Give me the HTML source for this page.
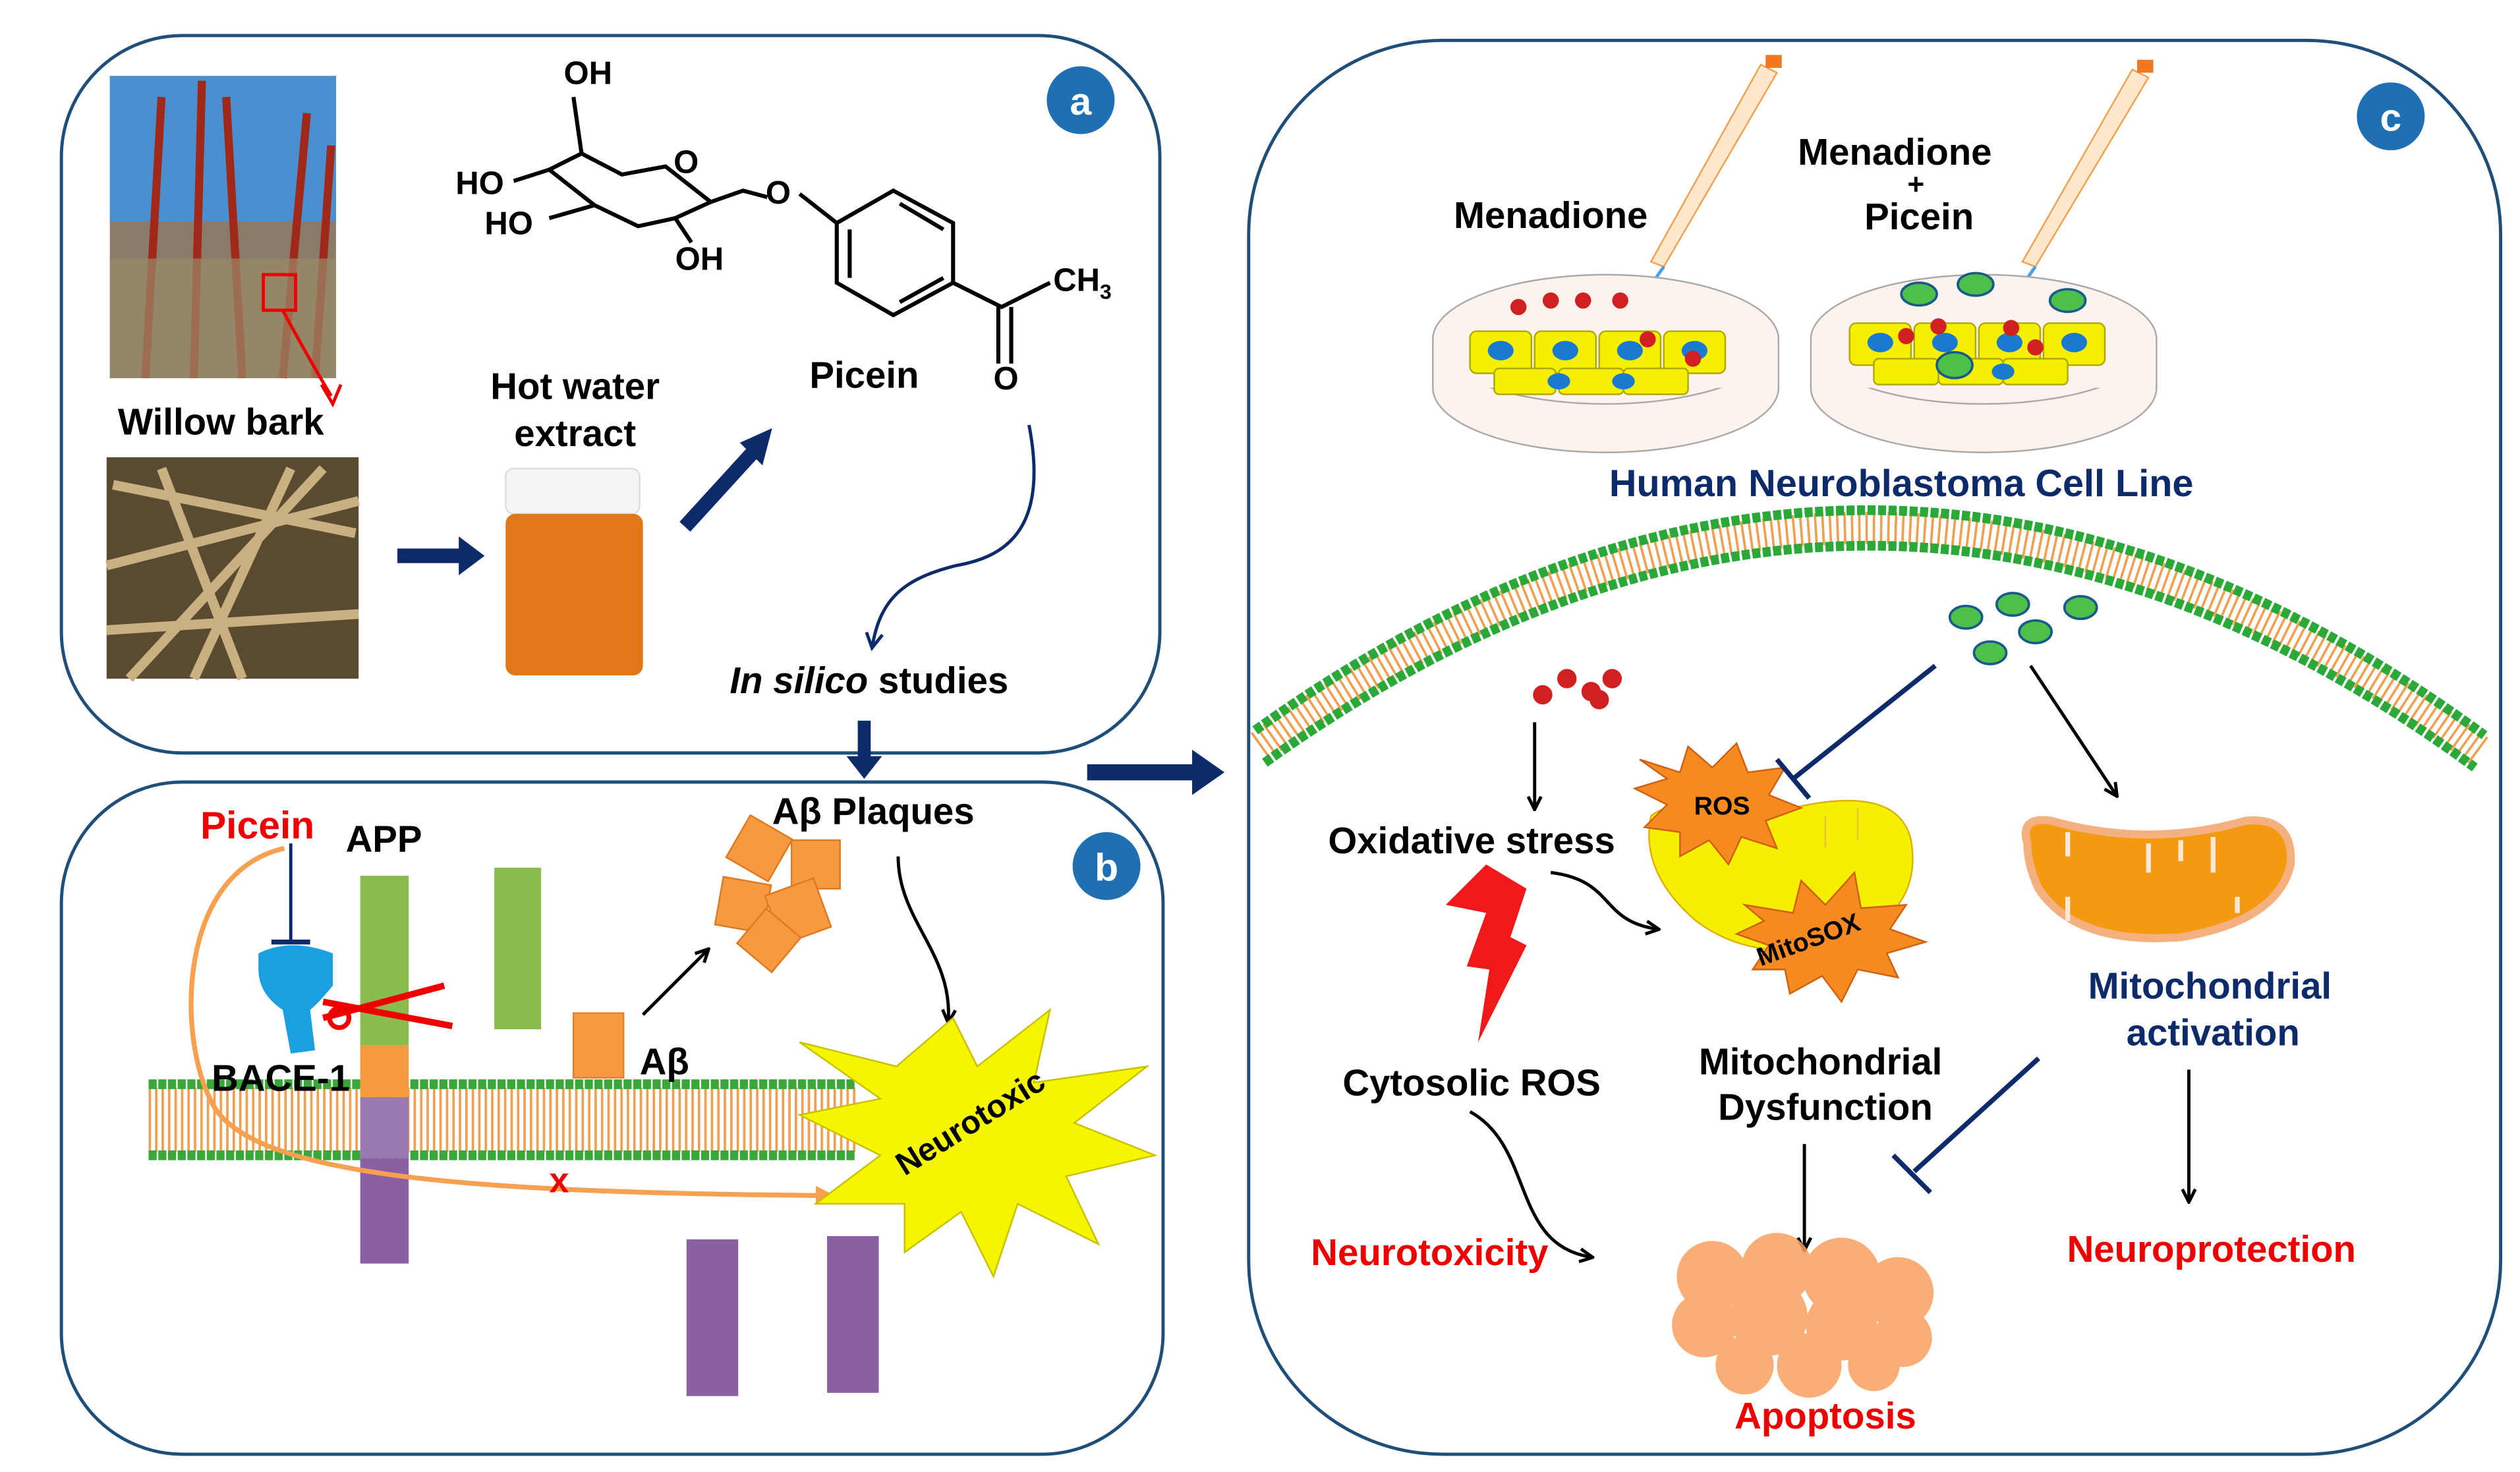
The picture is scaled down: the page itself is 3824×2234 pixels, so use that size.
<!DOCTYPE html>
<html><head><meta charset="utf-8"><style>
html,body{margin:0;padding:0;background:#fff}
svg{display:block}
text{font-family:"Liberation Sans",Arial,sans-serif;font-weight:bold}
</style></head><body>
<svg width="3824" height="2234" viewBox="0 0 1560 911" preserveAspectRatio="none" xmlns="http://www.w3.org/2000/svg">
<defs>
<marker id="ab" markerWidth="10" markerHeight="10" refX="8" refY="5" orient="auto" markerUnits="userSpaceOnUse"><path d="M1,1 L9,5 L1,9" fill="none" stroke="#000" stroke-width="2"/></marker>
<marker id="an" markerWidth="12" markerHeight="12" refX="9" refY="6" orient="auto" markerUnits="userSpaceOnUse"><path d="M1,1 L10,6 L1,11" fill="none" stroke="#0d2b6b" stroke-width="2"/></marker>
<marker id="ao" markerWidth="14" markerHeight="14" refX="10" refY="7" orient="auto" markerUnits="userSpaceOnUse"><path d="M0,1 L12,7 L0,13 Z" fill="#f7a050"/></marker>
</defs>
<rect x="38" y="22" width="680" height="444" rx="75" fill="none" stroke="#1f4e79" stroke-width="2"/>
<rect x="38" y="484" width="682" height="416" rx="75" fill="none" stroke="#1f4e79" stroke-width="2"/>
<rect x="773" y="25" width="775" height="875" rx="120" fill="none" stroke="#1f4e79" stroke-width="2"/>
<circle cx="669" cy="62" r="21" fill="#1f6fb5"/><text x="669" y="71" font-size="24" fill="#fff" text-anchor="middle" font-weight="normal">a</text>
<circle cx="685" cy="536" r="21" fill="#1f6fb5"/><text x="685" y="545" font-size="24" fill="#fff" text-anchor="middle" font-weight="normal">b</text>
<circle cx="1480" cy="72" r="21" fill="#1f6fb5"/><text x="1480" y="81" font-size="24" fill="#fff" text-anchor="middle" font-weight="normal">c</text>

<rect x="68" y="47" width="140" height="187" fill="#8a7a68"/>
<rect x="68" y="47" width="140" height="90" fill="#4a90d0"/>
<path d="M90,234 L100,60 M120,234 L125,50 M150,234 L140,60 M175,234 L190,70 M195,234 L205,90" stroke="#a02818" stroke-width="5"/>
<rect x="68" y="160" width="140" height="74" fill="#9a8a6a" opacity="0.7"/>
<rect x="163" y="170" width="20" height="22" fill="none" stroke="#e00" stroke-width="2"/>
<path d="M175,192 Q190,220 205,245" fill="none" stroke="#e00" stroke-width="2"/>
<path d="M199,238 L206,250 L211,238" fill="none" stroke="#e00" stroke-width="2"/>
<text x="73" y="269" font-size="23">Willow bark</text>
<rect x="66" y="283" width="156" height="137" fill="#5a4a30"/>
<path d="M70,300 L220,330 M66,350 L222,310 M80,420 L200,290 M66,390 L222,380 M100,290 L150,420 M180,290 L120,420" stroke="#c8b080" stroke-width="6"/>
<path d="M246,344 H286" stroke="#0d2b6b" stroke-width="9"/><path d="M284,332 L300,344 L284,356 Z" fill="#0d2b6b"/>
<text x="356" y="247" font-size="23" text-anchor="middle">Hot water</text>
<text x="356" y="276" font-size="23" text-anchor="middle">extract</text>
<rect x="313" y="290" width="83" height="28" rx="5" fill="#f5f5f5" stroke="#ddd"/>
<rect x="313" y="318" width="85" height="100" rx="6" fill="#e07818"/>
<path d="M424,326 L466,280" stroke="#0d2b6b" stroke-width="9"/><path d="M458,274 L478,265 L472,288 Z" fill="#0d2b6b"/>
<g fill="none" stroke="#000" stroke-width="2.5">
<path d="M340,105 L360,95 L385,108 L412,103 L440,125 L418,135 L395,140 L368,127 Z"/>
<path d="M360,95 L355,60"/><path d="M340,105 L318,112"/><path d="M368,127 L340,135"/><path d="M418,135 L428,150"/>
<path d="M440,125 L460,118 L475,122"/>
<path d="M495,120 L518,138 L518,175 L553,195 L590,175 L590,138 L553,118 L518,138"/>
<path d="M526,142 L526,172 M557,126 L584,142 M557,187 L584,172"/>
<path d="M590,175 L620,190 L650,175 M618,190 L618,225 M626,190 L626,225"/>
</g>
<text x="349" y="52" font-size="20">OH</text>
<text x="282" y="120" font-size="20">HO</text>
<text x="300" y="145" font-size="20">HO</text>
<text x="418" y="167" font-size="20">OH</text>
<text x="417" y="107" font-size="20">O</text>
<text x="474" y="126" font-size="20">O</text>
<text x="652" y="180" font-size="20">CH<tspan font-size="13" dy="5">3</tspan></text>
<text x="615" y="241" font-size="20">O</text>
<text x="535" y="240" font-size="23" text-anchor="middle">Picein</text>
<path d="M637,263 C650,330 620,345 592,350 C560,358 545,370 540,400" fill="none" stroke="#0d2b6b" stroke-width="2" marker-end="url(#an)"/>
<text x="538" y="429" font-size="23" text-anchor="middle"><tspan font-style="italic">In silico</tspan> studies</text>
<path d="M535,446 V470" stroke="#0d2b6b" stroke-width="8"/><path d="M524,468 L535,482 L546,468 Z" fill="#0d2b6b"/>
<path d="M673,478 H742" stroke="#0d2b6b" stroke-width="10"/><path d="M738,464 L758,478 L738,492 Z" fill="#0d2b6b"/>

<g>
<line x1="92" y1="693" x2="530" y2="693" stroke="#f0a050" stroke-width="40" stroke-dasharray="1.5 2.5"/>
<line x1="92" y1="671" x2="530" y2="671" stroke="#3aa838" stroke-width="6" stroke-dasharray="5 1"/>
<line x1="92" y1="715" x2="530" y2="715" stroke="#3aa838" stroke-width="6" stroke-dasharray="5 1"/>
</g>
<rect x="223" y="542" width="30" height="105" fill="#8bbb4c"/>
<rect x="223" y="647" width="30" height="32" fill="#f59a40"/>
<rect x="223" y="679" width="30" height="38" fill="#9a78b0"/>
<rect x="223" y="717" width="30" height="65" fill="#8a60a0"/>
<rect x="306" y="537" width="29" height="100" fill="#8bbb4c"/>
<rect x="355" y="627" width="31" height="40" fill="#f59a40" stroke="#e08030"/>
<text x="396" y="665" font-size="23">Aβ</text>
<rect x="425" y="767" width="32" height="97" fill="#8a60a0"/>
<rect x="512" y="765" width="32" height="97" fill="#8a60a0"/>
<text x="124" y="519" font-size="24" fill="#e00">Picein</text>
<text x="214" y="527" font-size="23">APP</text>
<text x="131" y="675" font-size="23">BACE-1</text>
<path d="M180,522 V583" stroke="#0d2b6b" stroke-width="2"/><path d="M168,583 H192" stroke="#0d2b6b" stroke-width="3"/>
<path d="M160,590 Q180,580 206,590 L206,610 Q198,620 192,625 L195,650 L180,652 L175,625 Q160,615 160,600 Z" fill="#1aa0e0"/>
<path d="M200,620 L280,635 M200,630 L275,610" stroke="#e00" stroke-width="4"/>
<circle cx="210" cy="630" r="6" fill="none" stroke="#e00" stroke-width="3"/>
<path d="M176,525 C110,540 110,640 130,680 C150,730 300,738 515,740" fill="none" stroke="#f7a050" stroke-width="3" marker-end="url(#ao)"/>
<text x="340" y="738" font-size="22" fill="#e00">x</text>
<path d="M398,628 L438,588" stroke="#000" stroke-width="2" marker-end="url(#ab)"/>
<g fill="#f59a40" stroke="#e07820">
<rect x="455" y="510" width="30" height="30" transform="rotate(30 470 525)"/>
<rect x="490" y="520" width="30" height="30"/>
<rect x="445" y="545" width="30" height="30" transform="rotate(10 460 560)"/>
<rect x="478" y="548" width="32" height="32" transform="rotate(-20 494 564)"/>
<rect x="462" y="568" width="28" height="28" transform="rotate(40 476 582)"/>
</g>
<text x="478" y="510" font-size="23">Aβ Plaques</text>
<path d="M556,530 C556,570 590,590 587,632" fill="none" stroke="#000" stroke-width="2" marker-end="url(#ab)"/>
<path d="M495,645 L555,660 L590,630 L605,660 L650,625 L640,670 L710,660 L665,695 L715,715 L660,728 L680,770 L630,745 L615,790 L595,750 L560,775 L560,745 L505,745 L545,715 L495,690 L545,680 Z" fill="#f5f500" stroke="#c8c000"/>
<text x="0" y="0" font-size="20" transform="translate(560,728) rotate(-32)">Neurotoxic</text>

<text x="960" y="141" font-size="23" text-anchor="middle">Menadione</text>
<text x="1173" y="102" font-size="23" text-anchor="middle">Menadione</text>
<text x="1186" y="120" font-size="18" text-anchor="middle">+</text>
<text x="1188" y="142" font-size="23" text-anchor="middle">Picein</text>
<path d="M1090,40 L1100,45 L1030,165 L1022,162 Z" fill="#fde8cc" stroke="#f0a050"/>
<path d="M1030,165 L1016,185" stroke="#4aa0e0" stroke-width="2"/>
<rect x="1093" y="34" width="10" height="8" fill="#f07820"/>
<path d="M1320,43 L1330,48 L1260,165 L1252,162 Z" fill="#fde8cc" stroke="#f0a050"/>
<path d="M1260,165 L1246,185" stroke="#4aa0e0" stroke-width="2"/>
<rect x="1323" y="37" width="10" height="8" fill="#f07820"/>
<g>
<ellipse cx="994" cy="240" rx="107" ry="40" fill="#fdf3ee" stroke="#aaa"/>
<ellipse cx="994" cy="210" rx="107" ry="40" fill="#fdf3ee" stroke="#aaa"/>
<rect x="887" y="210" width="214" height="30" fill="#fdf3ee"/>
<path d="M887,210 V240 M1101,210 V240" stroke="#aaa"/>
<ellipse cx="1228" cy="240" rx="107" ry="40" fill="#fdf3ee" stroke="#aaa"/>
<ellipse cx="1228" cy="210" rx="107" ry="40" fill="#fdf3ee" stroke="#aaa"/>
<rect x="1121" y="210" width="214" height="30" fill="#fdf3ee"/>
<path d="M1121,210 V240 M1335,210 V240" stroke="#aaa"/>
</g>
<g fill="#f5f000" stroke="#b0a800">
<rect x="910" y="205" width="38" height="26" rx="4"/><rect x="950" y="205" width="38" height="26" rx="4"/><rect x="990" y="205" width="38" height="26" rx="4"/><rect x="1030" y="205" width="38" height="26" rx="4"/>
<rect x="925" y="228" width="38" height="16" rx="3"/><rect x="965" y="228" width="40" height="16" rx="3"/><rect x="1005" y="228" width="40" height="16" rx="3"/>
<rect x="1145" y="200" width="38" height="26" rx="4"/><rect x="1185" y="200" width="38" height="26" rx="4"/><rect x="1225" y="200" width="38" height="26" rx="4"/><rect x="1265" y="200" width="38" height="26" rx="4"/>
<rect x="1160" y="222" width="40" height="16" rx="3"/><rect x="1200" y="222" width="40" height="16" rx="3"/><rect x="1240" y="222" width="40" height="16" rx="3"/>
</g>
<g fill="#1a7ad0">
<ellipse cx="929" cy="217" rx="8" ry="6"/><ellipse cx="969" cy="217" rx="8" ry="6"/><ellipse cx="1009" cy="217" rx="8" ry="6"/><ellipse cx="1049" cy="217" rx="8" ry="6"/>
<ellipse cx="965" cy="236" rx="7" ry="5"/><ellipse cx="1005" cy="236" rx="7" ry="5"/>
<ellipse cx="1164" cy="212" rx="8" ry="6"/><ellipse cx="1204" cy="212" rx="8" ry="6"/><ellipse cx="1244" cy="212" rx="8" ry="6"/><ellipse cx="1284" cy="212" rx="8" ry="6"/>
<ellipse cx="1240" cy="230" rx="7" ry="5"/>
</g>
<g fill="#d02020">
<circle cx="940" cy="190" r="5"/><circle cx="960" cy="186" r="5"/><circle cx="980" cy="186" r="5"/><circle cx="1003" cy="186" r="5"/><circle cx="1020" cy="210" r="5"/><circle cx="1048" cy="222" r="5"/>
<circle cx="1180" cy="208" r="5"/><circle cx="1200" cy="202" r="5"/><circle cx="1245" cy="203" r="5"/><circle cx="1260" cy="215" r="5"/>
<circle cx="955" cy="430" r="6"/><circle cx="970" cy="420" r="6"/><circle cx="985" cy="428" r="6"/><circle cx="998" cy="420" r="6"/><circle cx="990" cy="433" r="6"/>
</g>
<g fill="#4cc048" stroke="#1a5a8a" stroke-width="1.5">
<ellipse cx="1188" cy="182" rx="11" ry="7"/><ellipse cx="1223" cy="176" rx="11" ry="7"/><ellipse cx="1280" cy="186" rx="11" ry="7"/><ellipse cx="1210" cy="226" rx="11" ry="8"/>
<ellipse cx="1217" cy="382" rx="10" ry="7"/><ellipse cx="1246" cy="374" rx="10" ry="7"/><ellipse cx="1288" cy="376" rx="10" ry="7"/><ellipse cx="1260" cy="391" rx="10" ry="7"/><ellipse cx="1232" cy="404" rx="10" ry="7"/>
</g>
<text x="1177" y="307" font-size="23.5" fill="#0d2b6b" text-anchor="middle">Human Neuroblastoma Cell Line</text>
<path d="M780,462 Q1160,190 1535,465" fill="none" stroke="#f0a050" stroke-width="20" stroke-dasharray="1.5 3"/>
<path d="M777,452 Q1160,178 1538,455" fill="none" stroke="#2aa838" stroke-width="6" stroke-dasharray="5 1.5"/>
<path d="M783,472 Q1160,202 1532,475" fill="none" stroke="#2aa838" stroke-width="6" stroke-dasharray="5 1.5"/>
<path d="M950,447 V500" stroke="#000" stroke-width="2" marker-end="url(#ab)"/>
<text x="911" y="528" font-size="23" text-anchor="middle">Oxidative stress</text>
<path d="M960,540 C1000,545 990,570 1026,575" fill="none" stroke="#000" stroke-width="2" marker-end="url(#ab)"/>
<path d="M920,535 L945,550 L935,580 L945,585 L915,645 L922,600 L908,598 L920,565 L895,560 Z" fill="#f01818"/>
<text x="911" y="678" font-size="23" text-anchor="middle">Cytosolic ROS</text>
<path d="M910,688 C950,710 935,770 985,778" fill="none" stroke="#000" stroke-width="2" marker-end="url(#ab)"/>
<text x="885" y="783" font-size="23" fill="#e00" text-anchor="middle">Neurotoxicity</text>
<path d="M1022,505 Q1040,490 1110,500 Q1175,485 1183,520 Q1190,560 1150,580 Q1090,600 1050,570 Q1015,540 1022,505 Z" fill="#f5f000" stroke="#e0b000"/>
<path d="M1050,505 L1110,500 M1130,505 V525 M1150,500 V520" stroke="#e8c030" fill="none"/>
<path d="M1015,470 L1040,478 L1045,462 L1060,475 L1075,460 L1082,478 L1105,475 L1095,492 L1115,500 L1093,508 L1100,525 L1078,518 L1070,535 L1058,520 L1040,530 L1040,515 L1018,512 L1032,498 L1012,488 L1032,482 Z" fill="#f58a20" stroke="#d06010"/>
<text x="1066" y="504" font-size="16" text-anchor="middle">ROS</text>
<path d="M1080,560 L1110,565 L1115,545 L1130,560 L1148,540 L1152,562 L1180,560 L1170,575 L1192,583 L1168,590 L1175,605 L1150,600 L1140,620 L1128,604 L1108,615 L1105,600 L1085,600 L1095,585 L1075,578 L1092,570 Z" fill="#f58a20" stroke="#d06010"/>
<text x="0" y="0" font-size="16" transform="translate(1090,598) rotate(-20)">MitoSOX</text>
<path d="M1198,412 L1110,482" stroke="#0d2b6b" stroke-width="3"/><path d="M1100,470 L1120,494" stroke="#0d2b6b" stroke-width="3"/>
<path d="M1257,412 L1310,492" stroke="#000" stroke-width="2" marker-end="url(#ab)"/>
<path d="M1255,522 Q1250,505 1270,508 Q1330,525 1390,508 Q1420,505 1418,535 Q1410,570 1350,580 Q1285,585 1262,550 Q1255,535 1255,522 Z" fill="#f59a10" stroke="#f5b080" stroke-width="5"/>
<path d="M1280,515 V530 M1330,522 V540 M1350,520 V533 M1370,518 V540 M1280,555 V570 M1385,555 V565" stroke="#fde8d8" stroke-width="3"/>
<text x="1368" y="618" font-size="23" fill="#0d2b6b" text-anchor="middle">Mitochondrial</text>
<text x="1370" y="647" font-size="23" fill="#0d2b6b" text-anchor="middle">activation</text>
<text x="1127" y="665" font-size="23" text-anchor="middle">Mitochondrial</text>
<text x="1130" y="693" font-size="23" text-anchor="middle">Dysfunction</text>
<path d="M1262,655 L1185,725" stroke="#0d2b6b" stroke-width="3"/><path d="M1172,715 L1195,738" stroke="#0d2b6b" stroke-width="3"/>
<path d="M1117,708 V773" stroke="#000" stroke-width="2" marker-end="url(#ab)"/>
<path d="M1355,662 V743" stroke="#000" stroke-width="2" marker-end="url(#ab)"/>
<text x="1369" y="781" font-size="23" fill="#e00" text-anchor="middle">Neuroprotection</text>
<g fill="#f8a060" opacity="0.85">
<circle cx="1060" cy="790" r="22"/><circle cx="1100" cy="785" r="22"/><circle cx="1140" cy="790" r="24"/><circle cx="1175" cy="800" r="22"/>
<circle cx="1055" cy="820" r="20"/><circle cx="1095" cy="815" r="24"/><circle cx="1140" cy="820" r="22"/><circle cx="1178" cy="828" r="18"/>
<circle cx="1080" cy="845" r="18"/><circle cx="1120" cy="845" r="20"/><circle cx="1160" cy="845" r="16"/>
</g>
<text x="1130" y="884" font-size="23" fill="#e00" text-anchor="middle">Apoptosis</text>
</svg>
</body></html>
